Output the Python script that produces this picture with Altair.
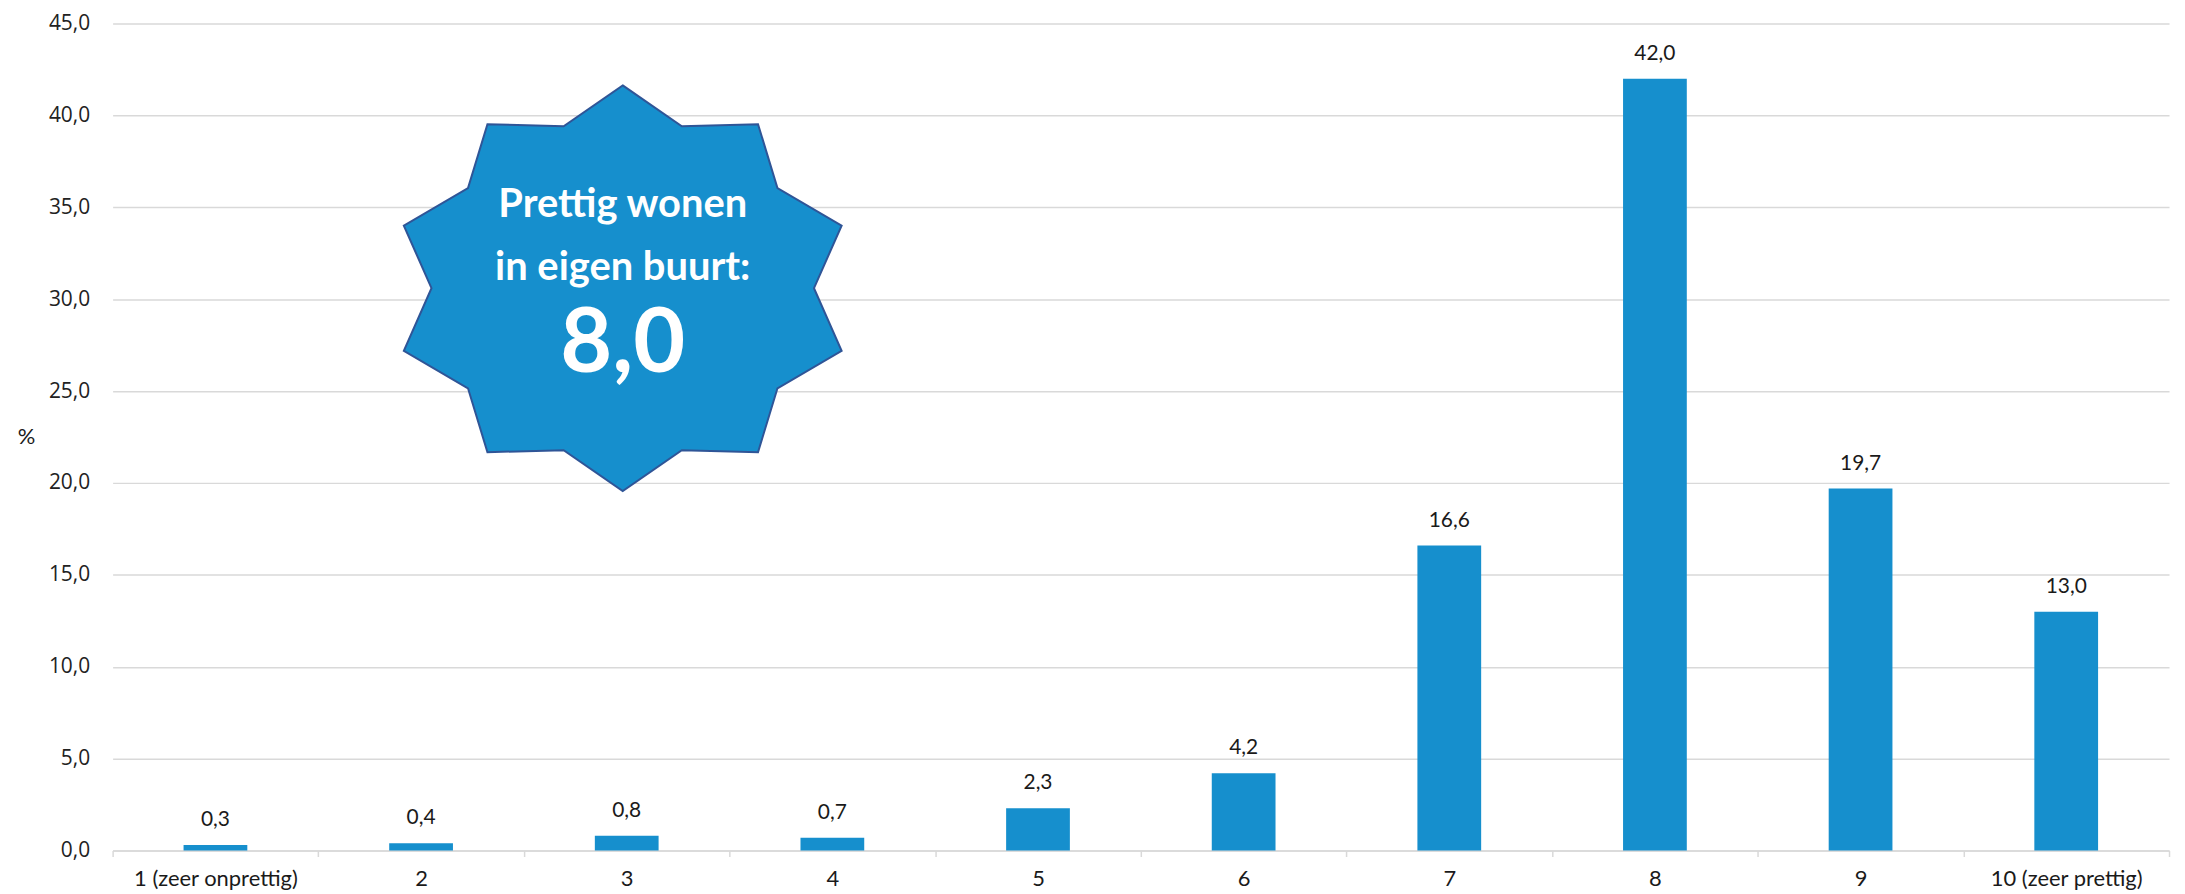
import math
import altair as alt
import pandas as pd

categories = ["1 (zeer onprettig)", "2", "3", "4", "5", "6", "7", "8", "9", "10 (zeer prettig)"]
values = [0.3, 0.4, 0.8, 0.7, 2.3, 4.2, 16.6, 42.0, 19.7, 13.0]

badge_lines = ["Prettig wonen", "in eigen buurt:"]
badge_score = "8,0"
badge_category = "3"
badge_center = 30.6
badge_text_y = [35.1, 31.7]
badge_score_y = 27.5

BLUE = "#168FCD"
GRID = "#D9D9D9"
FONT = "Lato"

df = pd.DataFrame({"cat": categories, "v": values})

# 10-point star path (stretched horizontally), unit coordinates
pts = []
for i in range(20):
    ang = math.radians(90 - i * 18)
    if i % 2 == 0:
        rx, ry = 1.0, 0.881
    else:
        rx, ry = 0.831, 0.740
    pts.append((rx * math.cos(ang), -ry * math.sin(ang)))
star_path = "M" + " L".join(f"{x:.4f},{y:.4f}" for x, y in pts) + " Z"

x_enc = alt.X(
    "cat:N",
    sort=categories,
    scale=alt.Scale(domain=categories, paddingInner=0, paddingOuter=0),
    axis=alt.Axis(
        title=None,
        labelAngle=0,
        labelFont=FONT,
        labelFontSize=22,
        labelColor="#1a1a1a",
        labelPadding=12,
        tickBand="extent",
        tickSize=6,
        tickColor=GRID,
        tickWidth=1.5,
        domainColor=GRID,
        domainWidth=1.5,
        grid=False,
    ),
)

y_scale = alt.Scale(domain=[0, 45], nice=False, zero=True)

bars = alt.Chart(df).mark_bar(color=BLUE, width={"band": 0.31}).encode(
    x=x_enc,
    y=alt.Y(
        "v:Q",
        scale=y_scale,
        axis=alt.Axis(
            title="%",
            titleAngle=0,
            titleFont=FONT,
            titleFontSize=22,
            titleFontWeight="normal",
            titleColor="#1a1a1a",
            titleAlign="center",
            titleBaseline="middle",
            titleX=-87,
            titleY=414,
            values=list(range(0, 50, 5)),
            labelExpr="replace(format(datum.value, '.1f'), '.', ',')",
            labelFont="Open Sans",
            labelFontSize=21,
            labelColor="#222222",
            labelPadding=23,
            ticks=False,
            domain=False,
            gridColor=GRID,
            gridWidth=1.5,
        ),
    ),
)

labels = alt.Chart(df).transform_calculate(
    lab="replace(format(datum.v, '.1f'), '.', ',')"
).mark_text(
    font=FONT, fontSize=21, color="#1a1a1a", baseline="bottom", dy=-15
).encode(
    x=alt.X("cat:N", sort=categories),
    y=alt.Y("v:Q", scale=y_scale),
    text="lab:N",
)

star_df = pd.DataFrame({"cat": [badge_category], "v": [badge_center]})
star = alt.Chart(star_df).mark_point(
    shape=star_path,
    filled=True,
    fill=BLUE,
    fillOpacity=1,
    stroke="#2F5597",
    strokeWidth=2,
    strokeOpacity=1,
    size=(2 * 231) ** 2,
    xOffset=-4,
).encode(
    x=alt.X("cat:N", sort=categories),
    y=alt.Y("v:Q", scale=y_scale),
)

txt_df = pd.DataFrame({"cat": [badge_category] * 2, "v": badge_text_y, "t": badge_lines})
badge_txt = alt.Chart(txt_df).mark_text(
    font=FONT, fontSize=40, fontWeight="bold", color="white", baseline="middle", xOffset=-4
).encode(
    x=alt.X("cat:N", sort=categories),
    y=alt.Y("v:Q", scale=y_scale),
    text="t:N",
)

score_df = pd.DataFrame({"cat": [badge_category], "v": [badge_score_y], "t": [badge_score]})
score_txt = alt.Chart(score_df).mark_text(
    font=FONT, fontSize=90, fontWeight="bold", color="white", baseline="middle", xOffset=-4
).encode(
    x=alt.X("cat:N", sort=categories),
    y=alt.Y("v:Q", scale=y_scale),
    text="t:N",
)

chart = alt.layer(bars, labels, star, badge_txt, score_txt).properties(
    width=2064,
    height=830,
    background="white",
    autosize=alt.AutoSizeParams(type="none"),
    padding={"left": 105, "top": 14, "right": 8, "bottom": 40},
).configure_view(stroke=None, strokeWidth=0).configure_axisY(
    domain=False, ticks=False
)

chart.save("out.html", embed_options={"renderer": "svg", "actions": False})
